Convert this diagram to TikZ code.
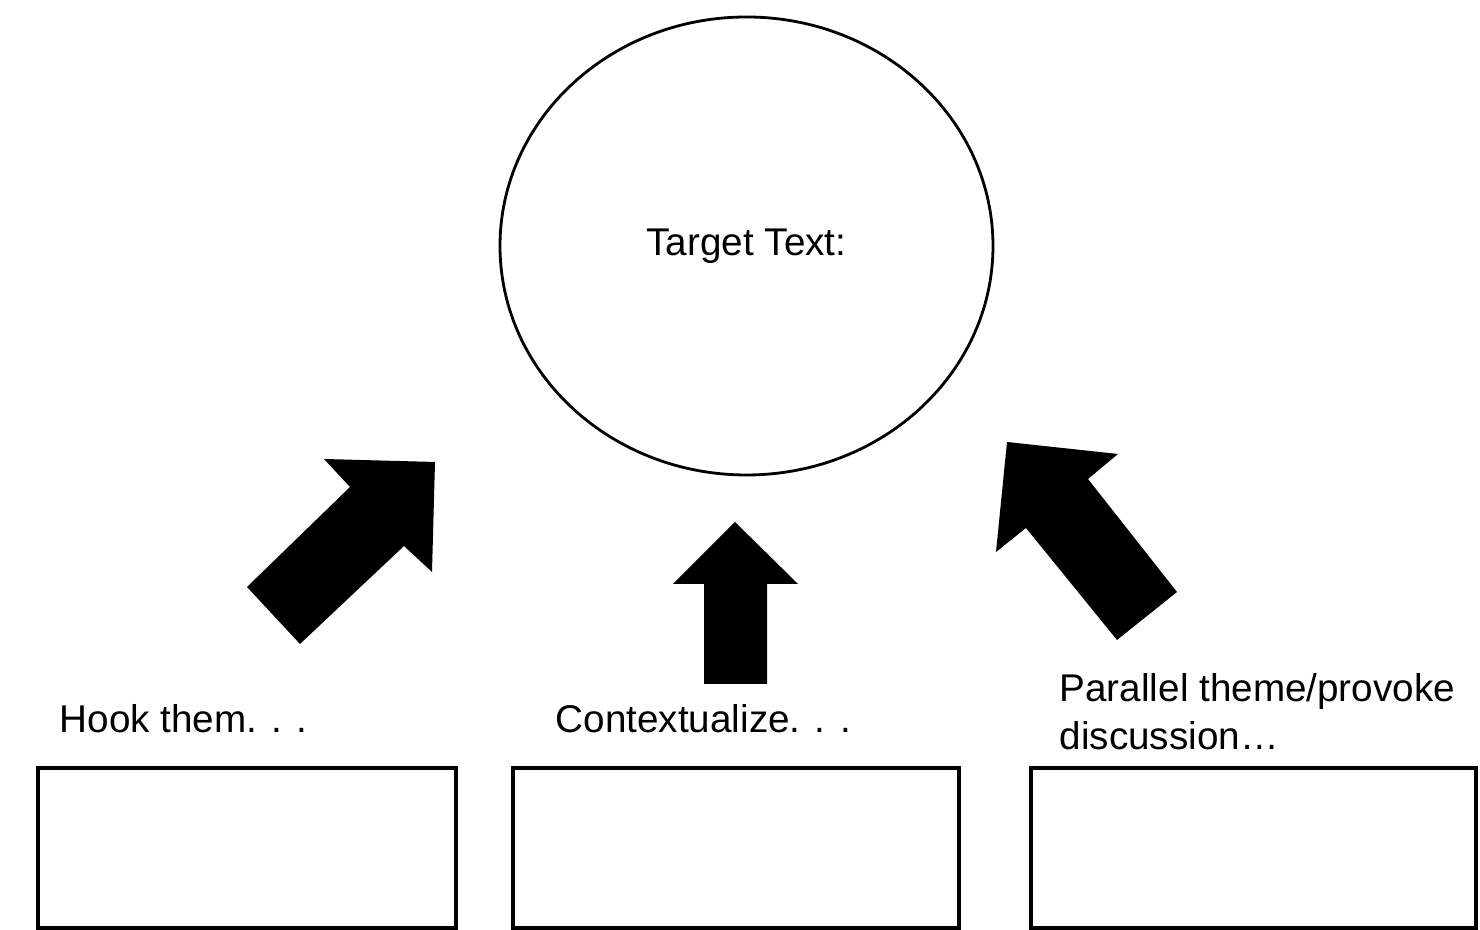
\documentclass[tikz,border=0pt]{standalone}
\usepackage{fontspec}
\setmainfont{Liberation Sans}
\usetikzlibrary{positioning, shapes.geometric}

\begin{document}
\begin{tikzpicture}[font=\fontsize{11}{13.75}\selectfont]
\tikzset{
  answerbox/.style={draw, line width=1pt, minimum height=1.6cm, inner sep=0pt, outer sep=0pt},
  blockarrow/.style={fill=black},
  cue/.style={inner sep=0pt, anchor=base west, align=left}
}
\useasboundingbox (0,0) rectangle (14.8,9.3);
% the target in the middle
\node[ellipse, draw, line width=0.8pt, minimum width=4.93cm, minimum height=4.58cm, inner sep=0pt]
  (target) at (7.465,6.84) {Target Text:};
% three answer boxes along the bottom
\node[answerbox, minimum width=4.18cm] (hookbox) at (2.47,0.82) {};
\node[answerbox, minimum width=4.46cm] (contextbox) at (7.36,0.82) {};
\node[answerbox, minimum width=4.45cm] (parallelbox) at (12.535,0.82) {};
\node[cue] (hooklabel) at (0.59,1.97) {Hook them. . .};
\node[cue] (contextlabel) at (5.55,1.97) {Contextualize. . .};
\node[cue] (parallellabel) at (10.59,1.80) {Parallel theme/provoke\\discussion…};
% fat arrows pointing at the target
\fill[blockarrow] (3.24,4.71) -- (4.35,4.68) -- (4.32,3.58) -- (4.04,3.84) -- (3.00,2.86)
  -- (2.47,3.43) -- (3.50,4.43) -- cycle;
\fill[blockarrow] (7.35,4.08) -- (7.98,3.46) -- (7.67,3.46) -- (7.67,2.46) -- (7.04,2.46)
  -- (7.04,3.46) -- (6.73,3.46) -- cycle;
\fill[blockarrow] (10.07,4.88) -- (11.18,4.76) -- (10.88,4.51) -- (11.77,3.38) -- (11.17,2.90)
  -- (10.26,4.02) -- (9.96,3.78) -- cycle;
\end{tikzpicture}
\end{document}
